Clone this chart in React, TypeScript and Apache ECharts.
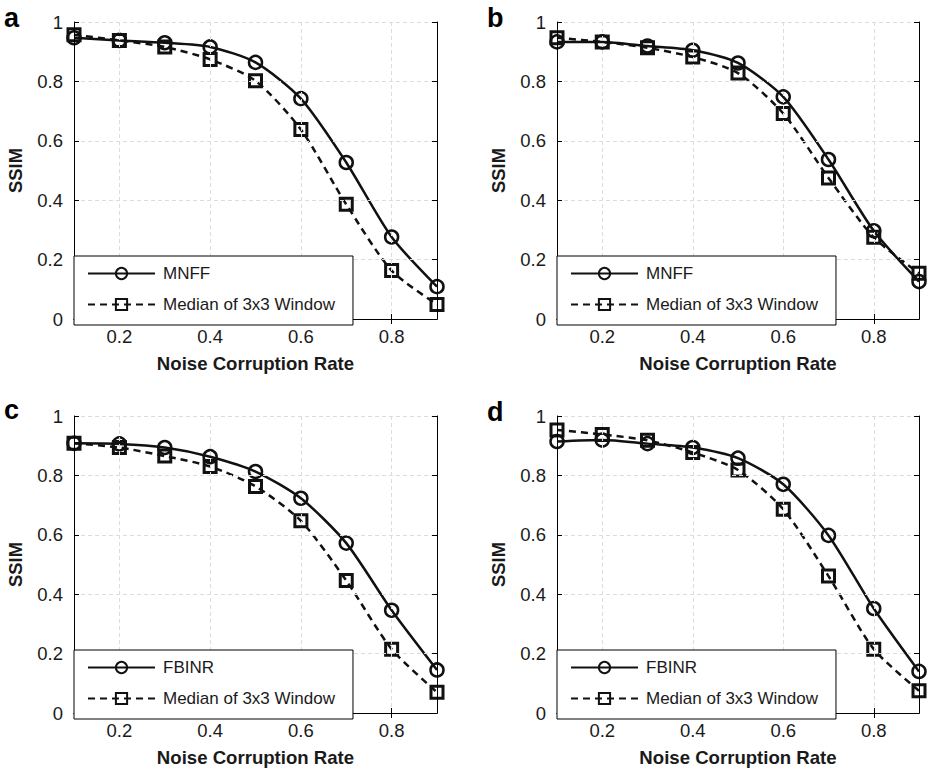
import React, { useEffect, useRef } from "react";
import * as echarts from "echarts";

const rates = ["0.1", "0.2", "0.3", "0.4", "0.5", "0.6", "0.7", "0.8", "0.9"];
const yTicks = [0, 0.2, 0.4, 0.6, 0.8, 1];

const mnffA = [0.947, 0.938, 0.93, 0.916, 0.864, 0.742, 0.527, 0.276, 0.109];
const medianA = [0.957, 0.938, 0.916, 0.874, 0.802, 0.638, 0.386, 0.163, 0.049];
const mnffB = [0.933, 0.933, 0.919, 0.905, 0.862, 0.748, 0.537, 0.297, 0.126];
const medianB = [0.947, 0.933, 0.913, 0.882, 0.828, 0.692, 0.475, 0.275, 0.154];
const fbinrC = [0.908, 0.906, 0.894, 0.863, 0.813, 0.723, 0.572, 0.346, 0.145];
const medianC = [0.908, 0.894, 0.865, 0.83, 0.763, 0.647, 0.446, 0.215, 0.07];
const fbinrD = [0.914, 0.919, 0.907, 0.894, 0.858, 0.77, 0.598, 0.352, 0.14];
const medianD = [0.953, 0.938, 0.918, 0.877, 0.818, 0.686, 0.461, 0.215, 0.075];

const panelLetters = ["a", "b", "c", "d"];
const methodNames = ["MNFF", "MNFF", "FBINR", "FBINR"];
const medianName = "Median of 3x3 Window";
const xTitle = "Noise Corruption Rate";
const yTitle = "SSIM";

const methodSeries = [mnffA, mnffB, fbinrC, fbinrD];
const medianSeries = [medianA, medianB, medianC, medianD];

const FONT = "'Liberation Sans', Arial, Helvetica, sans-serif";
const TXT = "#1a1a1a";

export default function App() {
  const ref = useRef<HTMLDivElement>(null);

  useEffect(() => {
    if (!ref.current) return;
    const chart = echarts.init(ref.current, undefined, { renderer: "svg" });

    const grids = [
      { left: 74, top: 22, width: 363, height: 297 },
      { left: 557, top: 22, width: 362, height: 297 },
      { left: 74, top: 416, width: 363, height: 297 },
      { left: 557, top: 416, width: 362, height: 297 },
    ];
    const letterPos = [
      { x: 4, y: 18 },
      { x: 487, y: 18 },
      { x: 4, y: 410 },
      { x: 487, y: 412 },
    ];

    const oddOnly = (i: number) => i % 2 === 1;

    const xAxes: any[] = [];
    const yAxes: any[] = [];
    const series: any[] = [];
    const legends: any[] = [];
    const graphics: any[] = [];

    grids.forEach((g, k) => {
      xAxes.push({
        type: "category",
        gridIndex: k,
        data: rates,
        boundaryGap: false,
        position: "bottom",
        name: xTitle,
        nameLocation: "middle",
        nameGap: 35,
        nameTextStyle: { fontFamily: FONT, fontWeight: "bold", fontSize: 18.6, color: TXT },
        axisLine: { show: true, lineStyle: { color: "#000", width: 1 } },
        axisTick: { show: true, inside: true, length: 5, interval: oddOnly, lineStyle: { color: "#000" } },
        axisLabel: { interval: oddOnly, margin: 8, fontFamily: FONT, fontSize: 18.5, color: TXT },
        splitLine: { show: true, interval: oddOnly, lineStyle: { color: "#dcdcdc", type: [4, 3], width: 1 } },
        z: 5,
      });
      xAxes.push({
        type: "category",
        gridIndex: k,
        data: rates,
        boundaryGap: false,
        position: "top",
        axisLine: { show: true, lineStyle: { color: "#000", width: 1 } },
        axisTick: { show: true, inside: true, length: 5, interval: oddOnly, lineStyle: { color: "#000" } },
        axisLabel: { show: false },
        splitLine: { show: false },
        z: 5,
      });
      yAxes.push({
        type: "value",
        gridIndex: k,
        min: 0,
        max: 1,
        interval: 0.2,
        position: "left",
        name: yTitle,
        nameLocation: "middle",
        nameGap: 50,
        nameRotate: 90,
        nameTextStyle: { fontFamily: FONT, fontWeight: "bold", fontSize: 18.4, color: TXT },
        axisLine: { show: true, lineStyle: { color: "#000", width: 1 } },
        axisTick: { show: true, inside: true, length: 5, lineStyle: { color: "#000" } },
        axisLabel: {
          margin: 11,
          fontFamily: FONT,
          fontSize: 18.5,
          color: TXT,
          formatter: (v: number) => {
            const t = yTicks.find((y) => Math.abs(y - v) < 1e-9);
            return t === undefined ? "" : String(t);
          },
        },
        splitLine: { show: true, lineStyle: { color: "#dcdcdc", type: [4, 3], width: 1 } },
        z: 5,
      });
      yAxes.push({
        type: "value",
        gridIndex: k,
        min: 0,
        max: 1,
        interval: 0.2,
        position: "right",
        axisLine: { show: true, lineStyle: { color: "#000", width: 1 } },
        axisTick: { show: true, inside: true, length: 5, lineStyle: { color: "#000" } },
        axisLabel: { show: false },
        splitLine: { show: false },
        z: 5,
      });

      const xi = k * 2;
      const yi = k * 2;
      series.push({
        type: "line",
        name: methodNames[k],
        xAxisIndex: xi,
        yAxisIndex: yi,
        data: methodSeries[k],
        smooth: 0.25,
        symbol: "circle",
        symbolSize: 13,
        lineStyle: { color: "#111", width: 2.5, type: "solid" },
        itemStyle: { color: "rgba(0,0,0,0)", borderColor: "#111", borderWidth: 2.5 },
        z: 3,
      });
      series.push({
        type: "line",
        name: medianName,
        xAxisIndex: xi,
        yAxisIndex: yi,
        data: medianSeries[k],
        smooth: 0.25,
        symbol: "rect",
        symbolSize: 12,
        lineStyle: { color: "#111", width: 2.5, type: [7, 5] },
        itemStyle: { color: "rgba(0,0,0,0)", borderColor: "#111", borderWidth: 3 },
        z: 3,
      });

      legends.push({
        orient: "vertical",
        left: g.left,
        top: g.top + g.height - 63,
        data: [methodNames[k], medianName],
        backgroundColor: "#fff",
        borderColor: "#000",
        borderWidth: 1,
        padding: [9, 18, 12, 13],
        itemGap: 14,
        itemWidth: 67,
        itemHeight: 14,
        selectedMode: false,
        textStyle: { fontFamily: FONT, fontSize: 17, color: TXT, padding: [0, 0, 0, 3] },
        z: 10,
      });

      graphics.push({
        type: "text",
        x: letterPos[k].x,
        y: letterPos[k].y,
        style: {
          text: panelLetters[k],
          font: `bold 27px ${FONT}`,
          fill: "#000",
          verticalAlign: "middle",
          align: "left",
        },
      });
    });

    chart.setOption({
      animation: false,
      backgroundColor: "#fff",
      grid: grids.map((g) => ({ ...g, show: false, containLabel: false })),
      xAxis: xAxes,
      yAxis: yAxes,
      legend: legends,
      series,
      graphic: graphics,
    });

    return () => chart.dispose();
  }, []);

  return (
    <div
      ref={ref}
      style={{ position: "absolute", left: 0, top: 0, width: 928, height: 768, background: "#fff" }}
    />
  );
}
